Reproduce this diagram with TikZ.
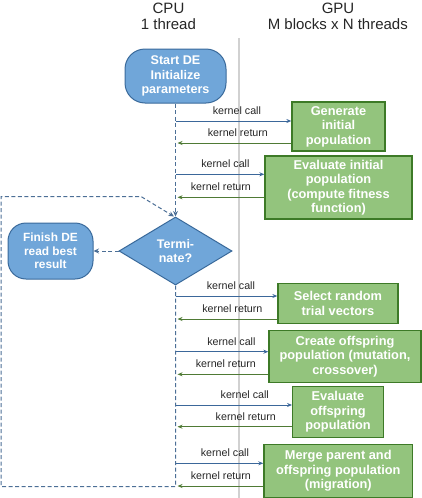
\documentclass[tikz,border=0pt]{standalone}
\usepackage{fontspec}
\setmainfont{Liberation Sans}
\usetikzlibrary{shapes.geometric,arrows.meta}
\definecolor{bfill}{HTML}{70A6D9}
\definecolor{bdraw}{HTML}{3A6A9B}
\definecolor{gfill}{HTML}{93C47D}
\definecolor{gdraw}{HTML}{3D7A27}
\definecolor{callc}{HTML}{3B679A}
\definecolor{retc}{HTML}{4F7A35}
\definecolor{dashc}{HTML}{4C6F96}
\begin{document}
\begin{tikzpicture}[x=1pt,y=-1pt,
  gbox/.style={draw=gdraw, fill=gfill, line width=1.3pt, text=white,
    font=\fontsize{12.8}{14.4}\selectfont\bfseries, align=center, inner sep=0pt},
  bterm/.style={draw=bdraw, fill=bfill, line width=1pt, text=white,
    font=\fontsize{12.6}{14.5}\selectfont\bfseries, align=center, inner sep=0pt},
  hdr/.style={font=\fontsize{15}{16}\selectfont, anchor=base, inner sep=0pt, text=black!85},
  lbl/.style={font=\fontsize{10.7}{12}\selectfont, inner sep=0pt, text=black!85},
  call/.style={draw=callc, line width=0.9pt, -{Stealth[length=5pt,width=4pt]}},
  ret/.style={draw=retc, line width=0.9pt, -{Stealth[length=5pt,width=4pt]}},
  dline/.style={draw=dashc, line width=1pt, dash pattern=on 4pt off 2.5pt},
  dtip/.style={-{Stealth[length=5.5pt,width=5pt]}}
]
\useasboundingbox (0,0) rectangle (422,498);

% headers
\node[hdr] (cpu) at (168.5,13) {CPU};
\node[hdr] (cput) at (168.4,29) {1 thread};
\node[hdr] (gpu) at (338,13) {GPU};
\node[hdr] (gput) at (337.8,29) {M blocks x N threads};

% separator
\coordinate (sepT) at (239,38);
\coordinate (sepB) at (239,498);
\draw[black!18, line width=1.2pt] (sepT) -- (sepB);

% CPU nodes
\node[bterm, rounded corners=20pt, minimum width=101pt, minimum height=54pt] (start) at (175.5,76) {Start DE\\Initialize\\parameters};
\node[bterm, diamond, aspect=1.66, minimum width=113pt, minimum height=68pt,
      font=\fontsize{12.5}{13.4}\selectfont\bfseries] (dia) at (175.5,251) {Termi-\\nate?};
\node[bterm, rounded corners=18pt, minimum width=85pt, minimum height=56pt,
      font=\fontsize{11.9}{13.4}\selectfont\bfseries] (fin) at (50.5,251) {Finish DE\\read best\\result};

% GPU boxes
\node[gbox, minimum width=93pt, minimum height=49pt] (g1) at (338.5,126.5) {Generate\\initial\\population};
\node[gbox, minimum width=147pt, minimum height=63pt] (g2) at (338.5,187.5) {Evaluate initial\\population\\(compute fitness\\function)};
\node[gbox, minimum width=120pt, minimum height=40pt] (g3) at (338,303.4) {Select random\\trial vectors};
\node[gbox, minimum width=152pt, minimum height=51.6pt] (g4) at (345,356.5) {Create offspring\\population (mutation,\\crossover)};
\node[gbox, minimum width=90.6pt, minimum height=50.6pt] (g5) at (338,412) {Evaluate\\offspring\\population};
\node[gbox, minimum width=148.7pt, minimum height=53pt] (g6) at (338.3,470.8) {Merge parent and\\offspring population\\(migration)};

% CPU flow (dashed)
\draw[dline, dtip] (start) -- (dia.north);
\draw[dline, dtip] (dia.west) -- (fin.east);
\coordinate (cpub) at (175.5,486.5);
\coordinate (lb) at (1,486.5);
\coordinate (lt) at (1,196.5);
\coordinate (ltr) at (141,196.5);
\draw[dline, dtip] (dia.south) -- (cpub) -- (lb) -- (lt) -- (ltr) -- ([xshift=-1.5pt]dia.north);

% kernel calls / returns
\foreach \i/\cy/\ry/\cs/\rs in {1/121/143/3.5/3.5, 2/174.3/197.3/5.5/0, 3/296/319/4.5/5, 4/351.7/374.3/9.5/3, 5/405/426.7/11/11, 6/463.3/486/5.5/0.5}{
  \coordinate (k\i) at (175.5,\cy);
  \coordinate (r\i) at (177.5,\ry);
  \draw[call] (k\i) -- (k\i -| g\i.west) node[lbl, midway, above=5.8pt, xshift=\cs pt] {kernel call};
  \draw[ret] (r\i -| g\i.west) -- (r\i) node[lbl, midway, above=5.8pt, xshift=\rs pt] {kernel return};
}
\end{tikzpicture}
\end{document}
